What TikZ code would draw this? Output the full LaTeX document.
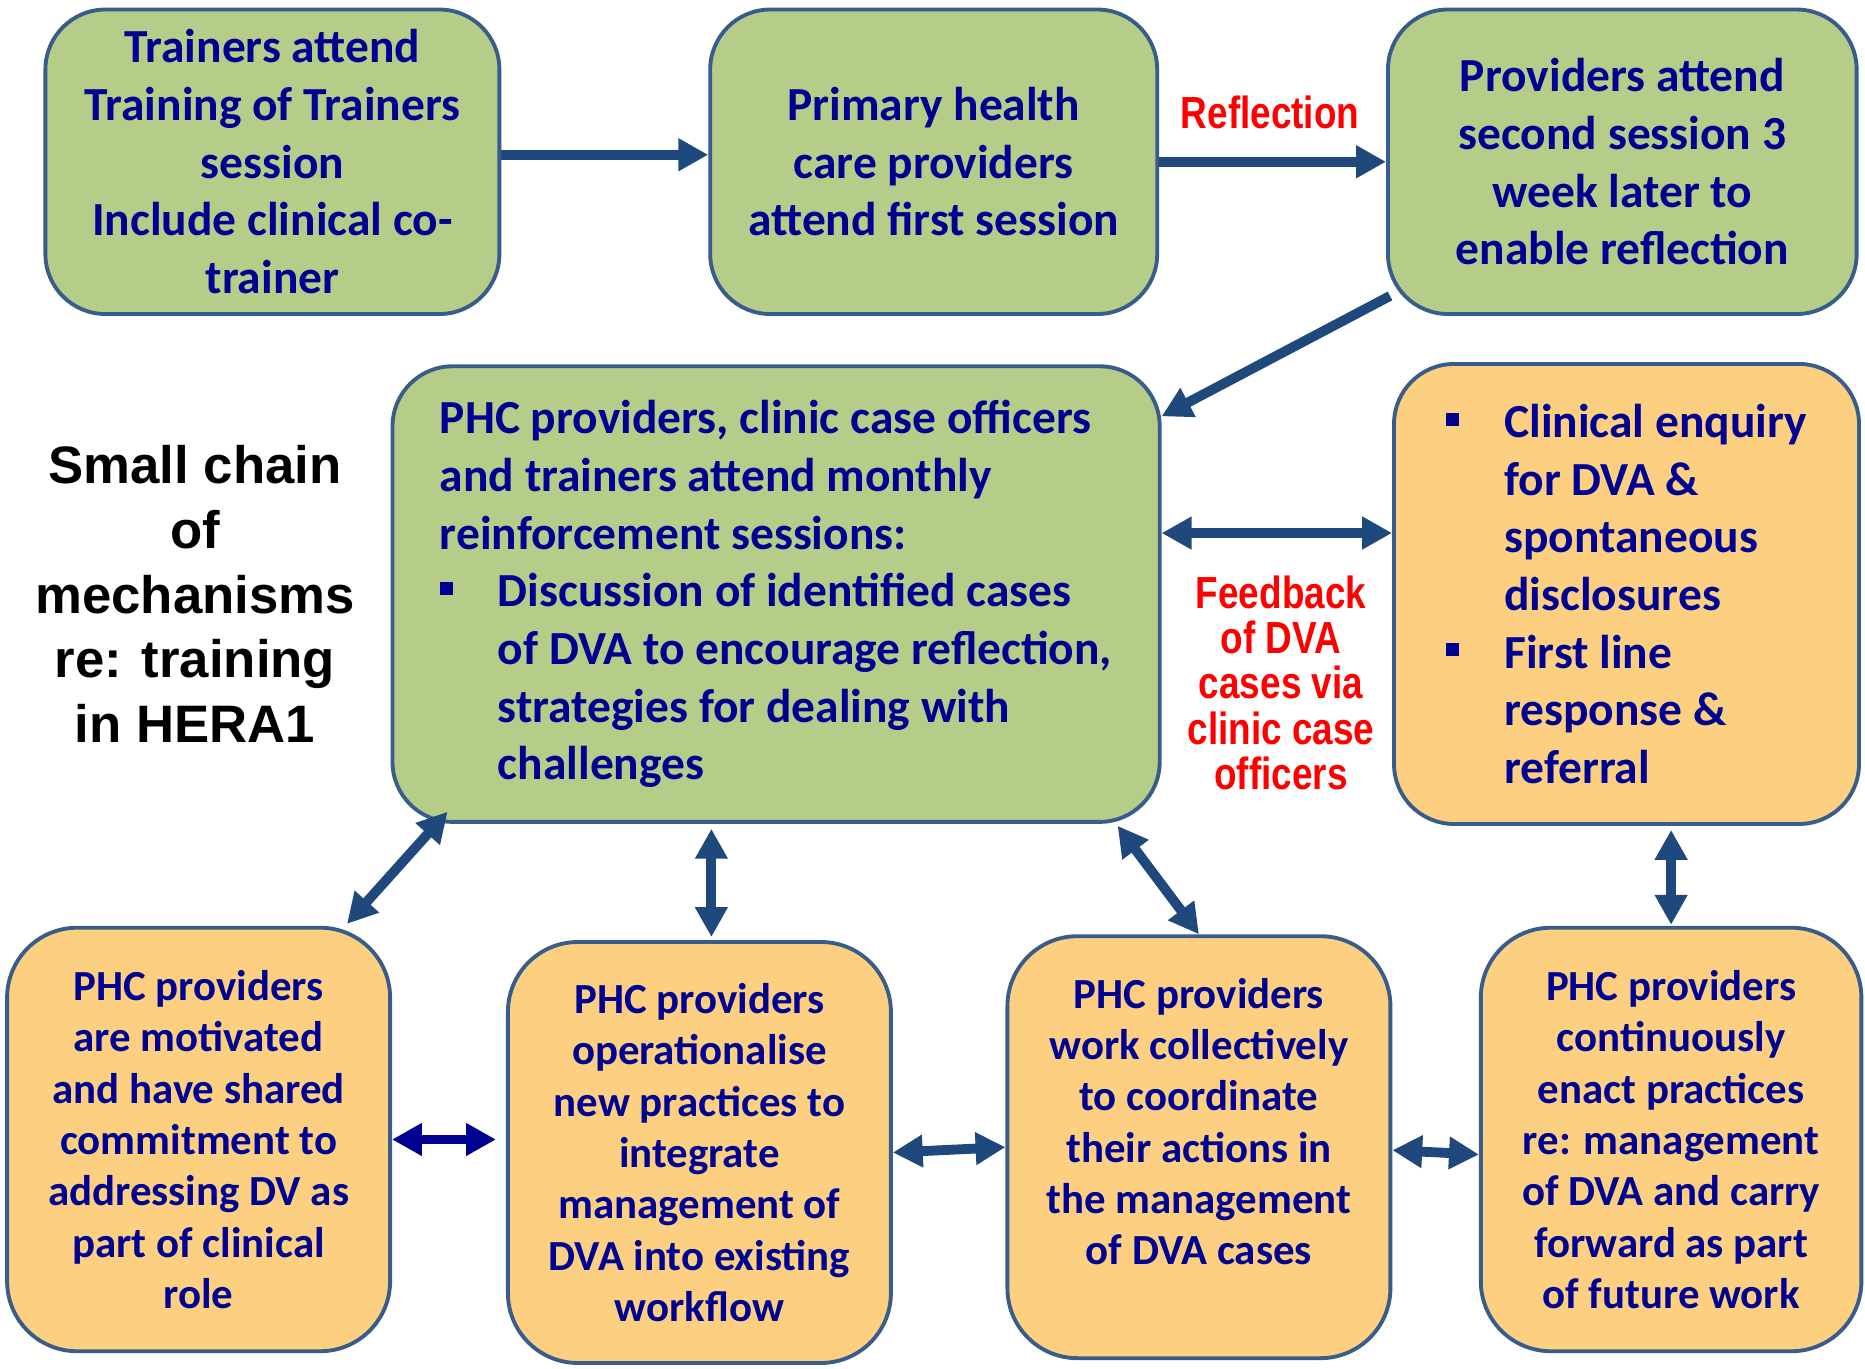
\documentclass[tikz,border=0pt]{standalone}
\usepackage{fontspec}
\setmainfont{Carlito}
\newfontfamily\arialbf{Liberation Sans}
\newfontfamily\narrowbf[FakeStretch=0.82]{Liberation Sans}
\usetikzlibrary{arrows.meta}

\definecolor{boxgreen}{RGB}{182,205,137}
\definecolor{boxorange}{RGB}{252,208,128}
\definecolor{boxline}{RGB}{56,93,138}
\definecolor{arrblue}{RGB}{31,73,125}
\definecolor{txtnavy}{RGB}{0,0,145}

\newcommand{\sqbul}{\makebox[0.58cm][l]{\rule[0.117cm]{0.13cm}{0.13cm}}}
\newcommand{\bulind}{\hspace*{0.58cm}}

\begin{document}
\begin{tikzpicture}[
greenbox/.style={draw=boxline,line width=1.1pt,fill=boxgreen,rounded corners=0.6cm,text=txtnavy,font=\bfseries\fontsize{13.5}{16.4}\selectfont,align=center},
orangebox/.style={greenbox,fill=boxorange},
smallbox/.style={orangebox,rounded corners=0.7cm,font=\bfseries\fontsize{12.2}{14.6}\selectfont},
redlbl/.style={text=red,font=\narrowbf\bfseries\fontsize{12.8}{12.9}\selectfont,align=center},
blacklbl/.style={text=black,font=\arialbf\bfseries\fontsize{15}{18.4}\selectfont,align=center},
arr/.style={draw=arrblue,line width=2.8pt,-{Triangle[length=8.5pt,width=8.8pt]}},
dblarr/.style={arr,{Triangle[length=8.5pt,width=8.8pt]}-{Triangle[length=8.5pt,width=8.8pt]}},
navyarr/.style={dblarr,draw=txtnavy}
]
\useasboundingbox (0,0) rectangle (18.65,13.69);

% top row
\node[greenbox,minimum width=4.54cm,minimum height=3.045cm](trainers) at (2.724,12.072){Trainers attend\\ Training of Trainers\\ session\\ Include clinical co-\\ trainer};
\node[greenbox,minimum width=4.47cm,minimum height=3.045cm](firstsess) at (9.337,12.072){Primary health\\ care providers\\ attend first session};
\node[greenbox,minimum width=4.687cm,minimum height=3.045cm](secondsess) at (16.223,12.072){Providers attend\\ second session 3\\ week later to\\ enable reflection};
\node[redlbl](refl) at (12.70,12.57){Reflection};

% middle row
\node[blacklbl](chain) at (1.95,7.75){Small chain\\ of\\ mechanisms\\ re: training\\ in HERA1};
\node[greenbox,align=left,minimum width=7.672cm,minimum height=4.556cm](monthly) at (7.761,7.749){PHC providers, clinic case officers\\ and trainers attend monthly\\ reinforcement sessions:\\ \sqbul Discussion of identified cases\\ \bulind of DVA to encourage reflection,\\ \bulind strategies for dealing with\\ \bulind challenges};
\node[orangebox,align=left,minimum width=4.65cm,minimum height=4.6cm](enquiry) at (16.265,7.75){\sqbul Clinical enquiry\\ \bulind for DVA \&\\ \bulind spontaneous\\ \bulind disclosures\\ \sqbul First line\\ \bulind response \&\\ \bulind referral};
\node[redlbl](feedback) at (12.81,6.863){Feedback\\ of DVA\\ cases via\\ clinic case\\ officers};

% bottom row
\node[smallbox,minimum width=3.83cm,minimum height=4.235cm](motivated) at (1.986,2.295){PHC providers\\ are motivated\\ and have shared\\ commitment to\\ addressing DV as\\ part of clinical\\ role};
\node[smallbox,minimum width=3.83cm,minimum height=4.21cm](operational) at (6.994,2.165){PHC providers\\ operationalise\\ new practices to\\ integrate\\ management of\\ DVA into existing\\ workflow};
\node[smallbox,minimum width=3.83cm,minimum height=4.22cm](collective) at (11.989,2.218){PHC providers\\ work collectively\\ to coordinate\\ their actions in\\ the management\\ of DVA cases\\ \mbox{}};
\node[smallbox,minimum width=3.806cm,minimum height=4.235cm](continuous) at (16.711,2.295){PHC providers\\ continuously\\ enact practices\\ re: management\\ of DVA and carry\\ forward as part\\ of future work};

\path
([yshift=0.07cm]trainers.east) edge[arr] ([yshift=0.07cm]firstsess.west)
(firstsess.east) edge[arr] (secondsess.west)
([xshift=0.04cm,yshift=0.20cm]secondsess.south west) edge[arr] ([yshift=-0.52cm]monthly.north east)
([yshift=0.61cm]monthly.east) edge[dblarr] ([yshift=0.61cm]enquiry.west)
([xshift=0.57cm,yshift=0.12cm]monthly.south west) edge[dblarr] ([xshift=-0.45cm,yshift=0.02cm]motivated.north east)
([xshift=0.12cm,yshift=0.03cm]operational.north) edge[dblarr] ([xshift=0.12cm,yshift=-0.05cm]operational.north |- monthly.south)
([xshift=-0.44cm,yshift=-0.02cm]monthly.south east) edge[dblarr] (collective.north)
([yshift=0.01cm]continuous.north) edge[dblarr] ([yshift=-0.04cm]continuous.north |- enquiry.south)
(motivated.east) edge[navyarr] ([xshift=-0.1cm]motivated.east -| operational.west)
(operational.east) edge[dblarr] (collective.west)
([yshift=-0.03cm]collective.east) edge[dblarr] ([yshift=-0.15cm]continuous.west);
\end{tikzpicture}
\end{document}
